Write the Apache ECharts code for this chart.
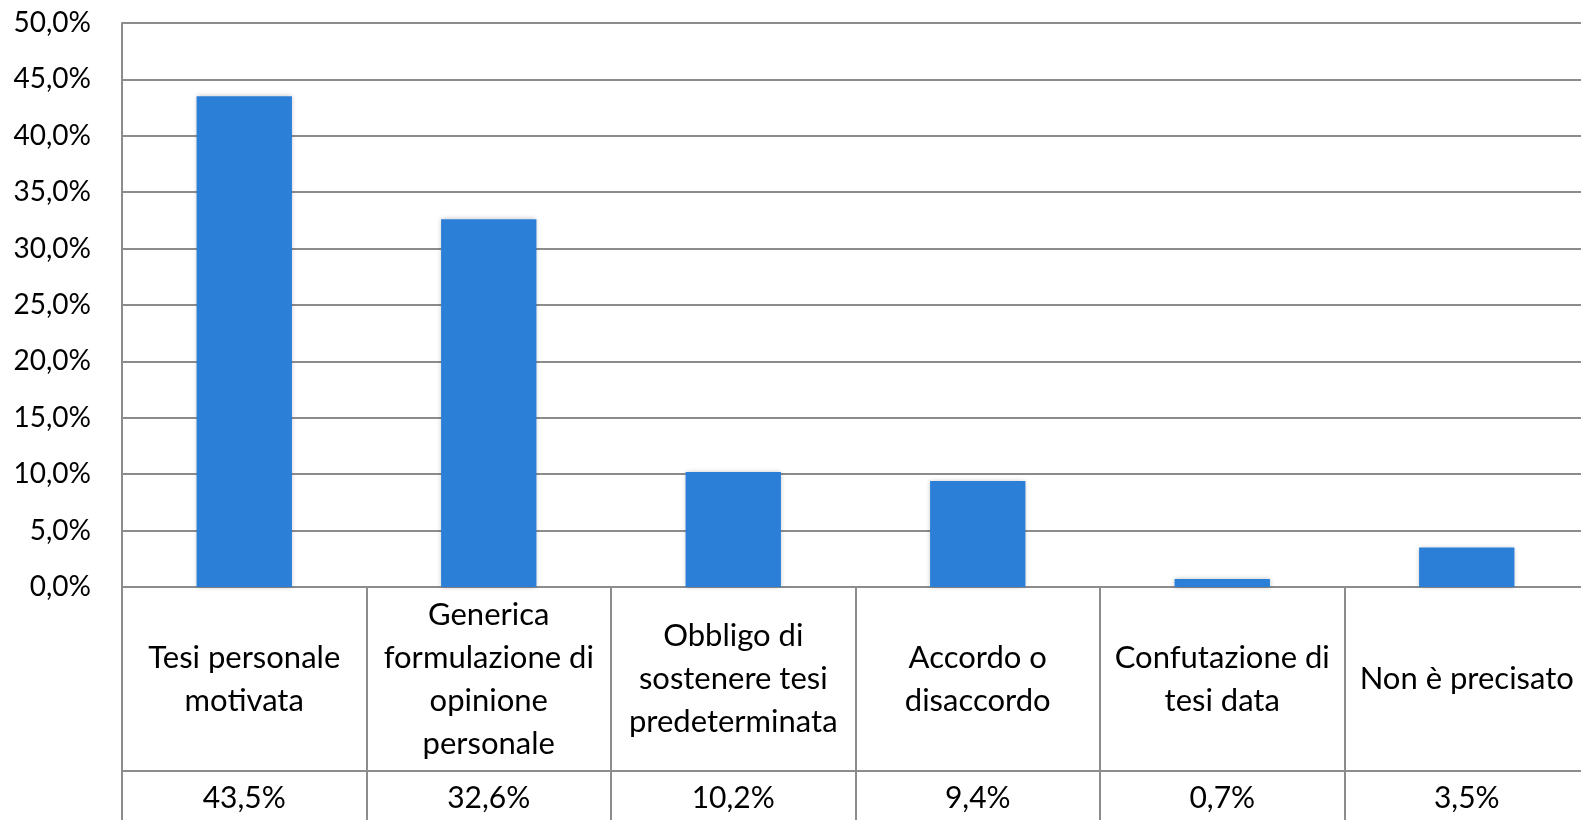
<!DOCTYPE html>
<html>
<head>
<meta charset="utf-8">
<script src="https://cdn.jsdelivr.net/npm/echarts@6/dist/echarts.min.js"></script>
<style>
  html, body { margin: 0; padding: 0; background: #fff; }
  #chart { width: 1581px; height: 820px; }
</style>
</head>
<body>
<div id="chart"></div>
<script>
const categories = [
    'Tesi personale\nmotivata',
    'Generica\nformulazione di\nopinione\npersonale',
    'Obbligo di\nsostenere tesi\npredeterminata',
    'Accordo o\ndisaccordo',
    'Confutazione di\ntesi data',
    'Non è precisato'
];
const values = [43.5, 32.6, 10.2, 9.4, 0.7, 3.5];

const fmt = v => v.toFixed(1).replace('.', ',') + '%';
const font = 'Lato';
const gray = '#8c8c8c';

const chart = echarts.init(document.getElementById('chart'));

const option = {
    animation: false,
    grid: {
        left: 122,
        top: 23,
        right: -8,
        bottom: 233,
        outerBoundsMode: 'none'
    },
    xAxis: [
        {
            type: 'category',
            data: categories,
            axisLine: { show: true, lineStyle: { color: gray, width: 2 } },
            axisTick: {
                show: true,
                length: 240,
                lineStyle: { color: gray, width: 2 }
            },
            axisLabel: {
                interval: 0,
                margin: 92,
                verticalAlign: 'middle',
                fontFamily: font,
                fontSize: 31,
                lineHeight: 43,
                color: '#000'
            }
        },
        {
            type: 'category',
            data: values.map(fmt),
            position: 'bottom',
            offset: 184,
            axisLine: { show: true, lineStyle: { color: gray, width: 2 } },
            axisTick: { show: false },
            axisLabel: {
                interval: 0,
                margin: 12,
                fontFamily: font,
                fontSize: 30,
                color: '#000'
            }
        }
    ],
    yAxis: {
        type: 'value',
        min: 0,
        max: 50,
        interval: 5,
        axisLine: { show: true, lineStyle: { color: gray, width: 2 } },
        axisTick: { show: false },
        splitLine: { show: true, lineStyle: { color: gray, width: 2 } },
        axisLabel: {
            margin: 31,
            formatter: fmt,
            fontFamily: font,
            fontSize: 28,
            color: '#000'
        }
    },
    series: [
        {
            type: 'bar',
            data: values,
            barWidth: '39%',
            itemStyle: {
                color: '#2b7fd7',
                shadowBlur: 5,
                shadowColor: 'rgba(0,0,0,0.25)'
            }
        }
    ]
};

chart.setOption(option);
window.addEventListener('resize', () => chart.resize());
</script>
</body>
</html>
